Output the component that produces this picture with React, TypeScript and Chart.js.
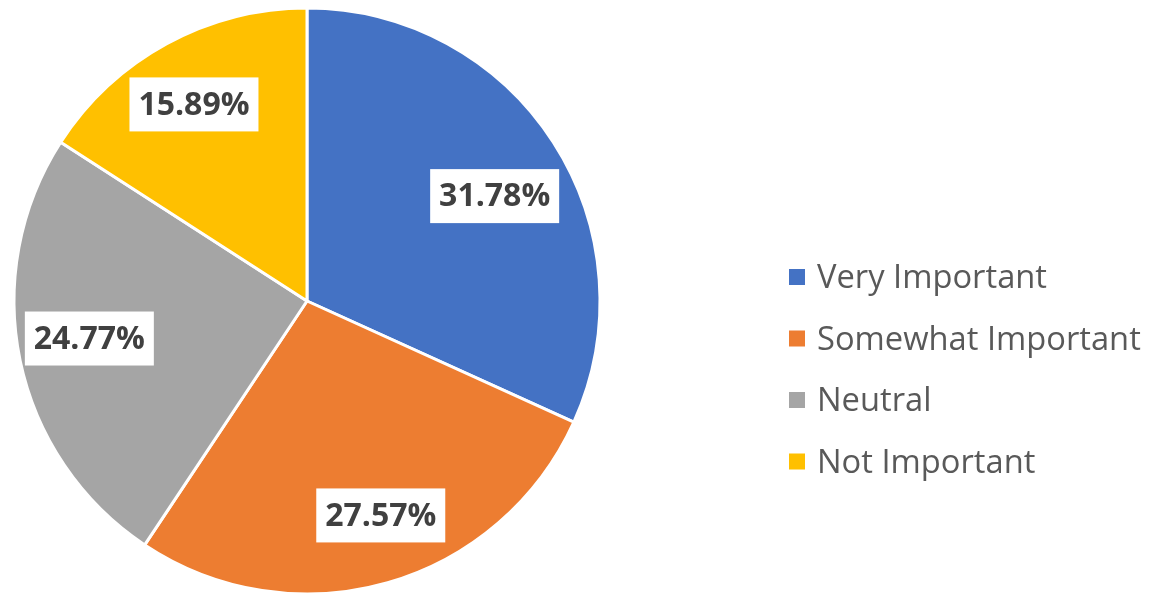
import React, { useEffect, useRef } from "react";
import { Chart, registerables } from "chart.js";

Chart.register(...registerables);

const categories = ["Very Important", "Somewhat Important", "Neutral", "Not Important"];
const values = [31.78, 27.57, 24.77, 15.89];
const colors = ["#4472C4", "#ED7D31", "#A5A5A5", "#FFC000"];

const FONT = "'Open Sans', Lato, sans-serif";

// label placement style (radial fraction and angular nudge, degrees)
const labelRadius = [0.73, 0.77, 0.75, 0.77];
const labelNudge = [3.6, -3.0, 2.0, -1.3];

const labelPlugin = {
  id: "sliceLabels",
  afterDatasetsDraw(chart: any) {
    const ctx = chart.ctx;
    const meta = chart.getDatasetMeta(0);
    ctx.save();
    ctx.font = `bold 32px ${FONT}`;
    ctx.textAlign = "center";
    ctx.textBaseline = "middle";
    meta.data.forEach((arc: any, i: number) => {
      const p = arc.getProps(["x", "y", "startAngle", "endAngle", "outerRadius"], true);
      const mid = (p.startAngle + p.endAngle) / 2 + (labelNudge[i] * Math.PI) / 180;
      const r = (p.outerRadius + 1.5) * labelRadius[i];
      const cx = p.x + Math.cos(mid) * r;
      const cy = p.y + Math.sin(mid) * r;
      const text = values[i].toFixed(2) + "%";
      const w = 129, h = 54;
      ctx.fillStyle = "#FFFFFF";
      ctx.fillRect(cx - w / 2, cy - h / 2, w, h);
      ctx.fillStyle = "#404040";
      ctx.fillText(text, cx, cy + 1);
    });
    ctx.restore();
  },
};

const legendPlugin = {
  id: "customLegend",
  afterDraw(chart: any) {
    const ctx = chart.ctx;
    ctx.save();
    ctx.font = `32.7px ${FONT}`;
    ctx.textBaseline = "middle";
    ctx.textAlign = "left";
    const x0 = 789;
    const y0 = 277;
    const step = 61.5;
    categories.forEach((c, i) => {
      const y = y0 + i * step;
      ctx.fillStyle = colors[i];
      ctx.fillRect(x0, y - 8, 16, 16);
      ctx.fillStyle = "#595959";
      ctx.fillText(c, x0 + 28, y + 2);
    });
    ctx.restore();
  },
};

export default function App() {
  const ref = useRef<HTMLCanvasElement>(null);
  useEffect(() => {
    if (!ref.current) return;
    const chart = new Chart(ref.current, {
      type: "pie",
      data: {
        labels: categories,
        datasets: [
          {
            data: values,
            backgroundColor: colors,
            borderColor: "#FFFFFF",
            borderWidth: 3,
            hoverOffset: 0,
          },
        ],
      },
      options: {
        responsive: false,
        animation: false,
        radius: 293,
        layout: { padding: { left: 11, top: 10, right: 552, bottom: 3 } },
        plugins: {
          legend: { display: false },
          tooltip: { enabled: false },
        },
      } as any,
      plugins: [labelPlugin, legendPlugin],
    });
    return () => chart.destroy();
  }, []);
  return (
    <div style={{ position: "absolute", left: 0, top: 0, width: 1155, height: 595, background: "#fff" }}>
      <canvas ref={ref} width={1155} height={595} />
    </div>
  );
}
